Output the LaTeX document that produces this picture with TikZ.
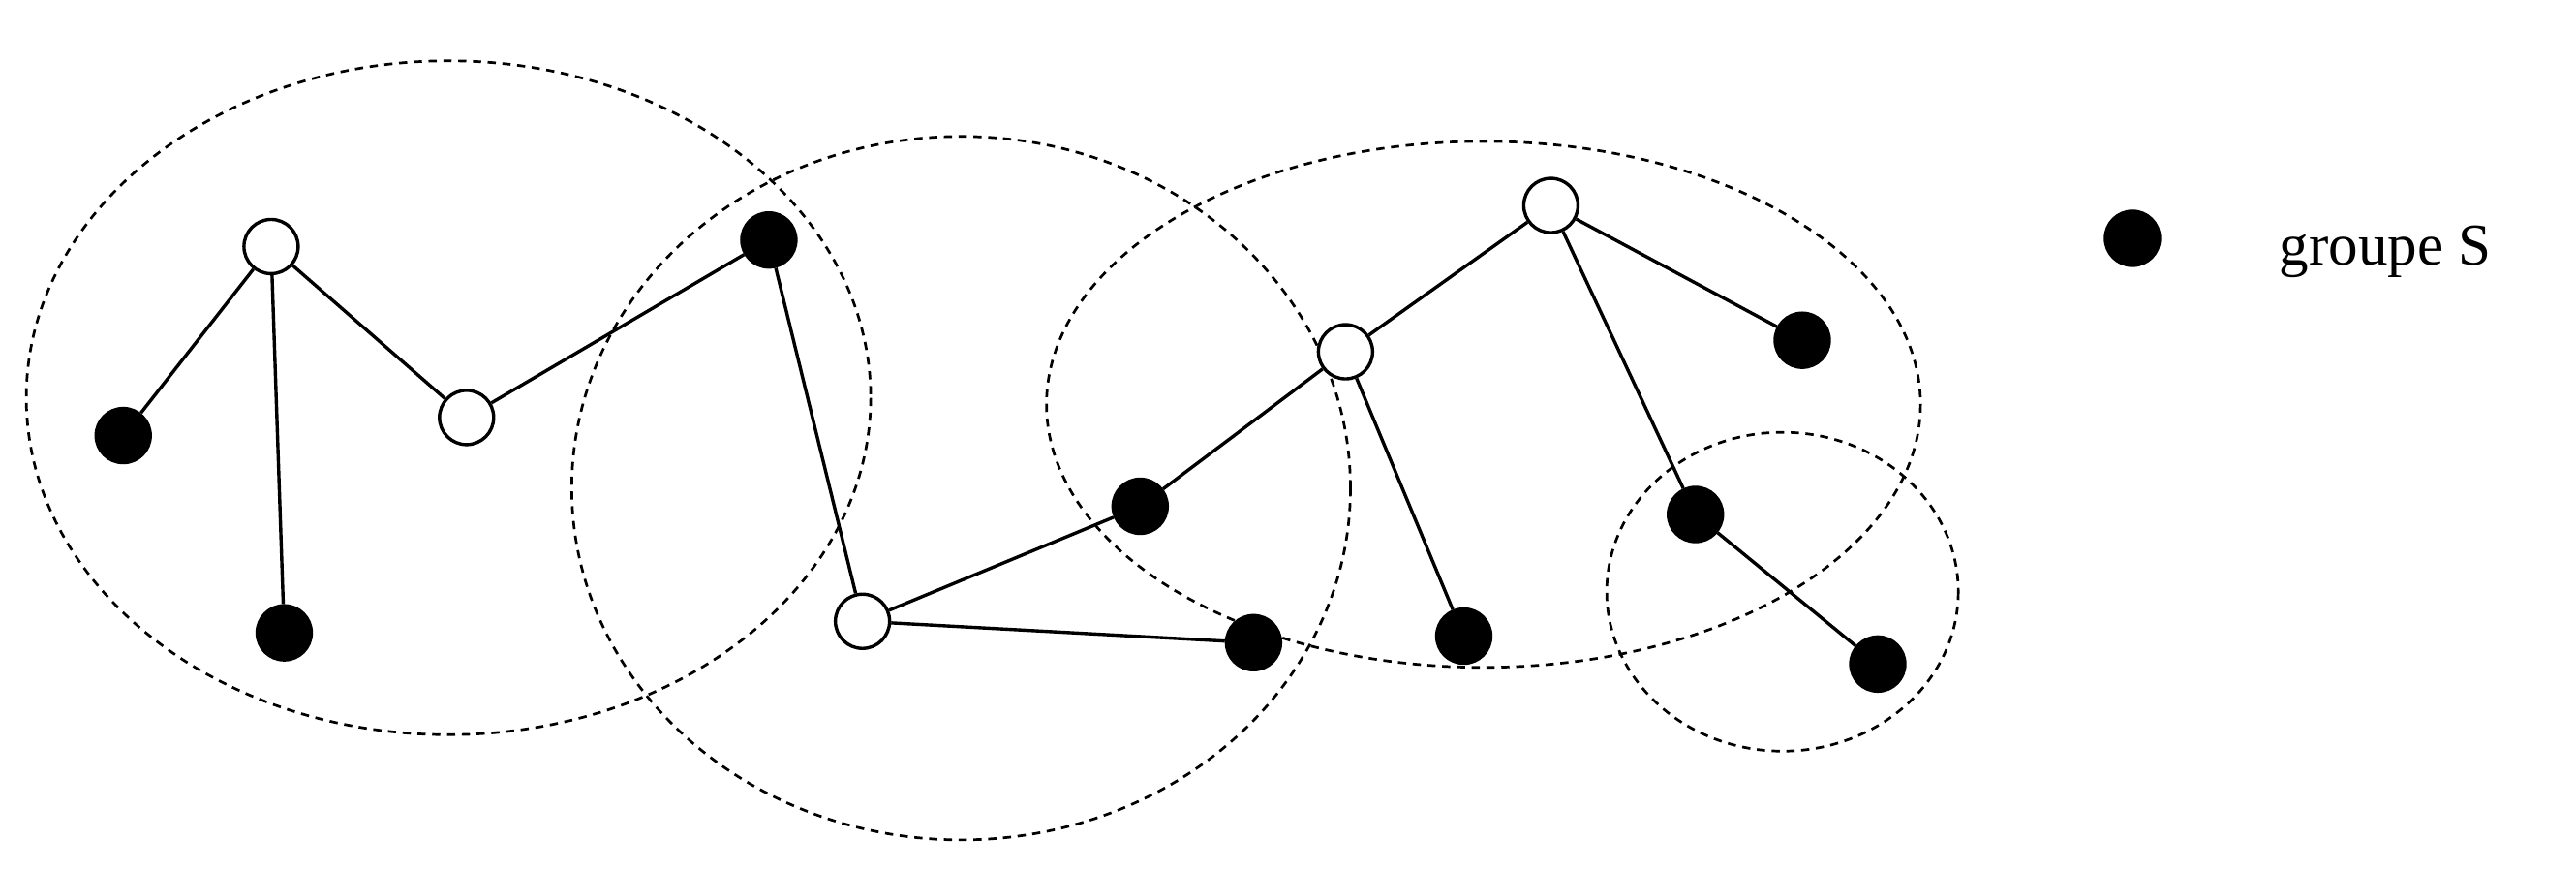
\documentclass[tikz,border=0pt]{standalone}
\usepackage{fontspec}
\setmainfont{Liberation Serif}
\begin{document}
\begin{tikzpicture}[x=1pt,y=-1pt,
  wn/.style={circle,draw,line width=2pt,fill=white,minimum size=33pt,inner sep=0pt},
  bn/.style={circle,draw,line width=2pt,fill=black,minimum size=33pt,inner sep=0pt},
  zone/.style={line width=1.6pt,dash pattern=on 5pt off 4pt},
  edge/.style={line width=2pt}]
\useasboundingbox (0,0) rectangle (1568,530);
\draw[zone] (273,242) ellipse [x radius=257,y radius=205];
\draw[zone] (585,297) ellipse [x radius=237,y radius=214];
\draw[zone] (903,246) ellipse [x radius=266,y radius=160];
\draw[zone] (1085,360) ellipse [x radius=107,y radius=97];
\node[wn] (A) at (165,150) {};
\node[wn] (B) at (284,254) {};
\node[wn] (C) at (525,378) {};
\node[wn] (D) at (819,214) {};
\node[wn] (E) at (944,125) {};
\node[bn] (a) at (75,265) {};
\node[bn] (b) at (173,385) {};
\node[bn] (c) at (468,146) {};
\node[bn] (d) at (694,308) {};
\node[bn] (e) at (763,391) {};
\node[bn] (f) at (891,387) {};
\node[bn] (g) at (1097,207) {};
\node[bn] (h) at (1032,313) {};
\node[bn] (i) at (1143,404) {};
\node[bn] (leg) at (1298,145) {};
\node[anchor=west,font=\fontsize{36}{40}\selectfont] (lt) at (1384,153) {groupe S};
\foreach \u/\v in {A/a,A/b,A/B,B/c,c/C,C/d,C/e,d/D,D/E,D/f,E/g,E/h,h/i}
  \draw[edge] (\u) -- (\v);
\end{tikzpicture}
\end{document}
